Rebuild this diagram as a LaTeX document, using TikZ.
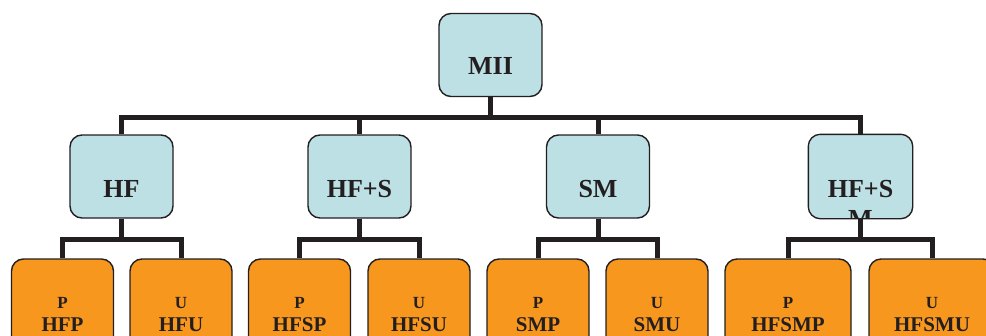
\documentclass[tikz,border=0pt]{standalone}
\usepackage{fontspec}
\setmainfont{Liberation Serif}
\definecolor{boxblue}{HTML}{BDE0E4}
\definecolor{boxorange}{HTML}{F7971D}
\definecolor{ink}{HTML}{231F20}
\begin{document}
\begin{tikzpicture}[x=1pt,y=-1pt,
 box/.style={draw=ink,line width=1.4pt,rounded corners=12pt,inner sep=0pt},
 bluebox/.style={box,fill=boxblue,minimum width=103pt,minimum height=83pt},
 orangebox/.style={box,fill=boxorange,minimum width=102pt,minimum height=96pt},
 wideorange/.style={orangebox,minimum width=126pt},
 conn/.style={draw=ink,line width=5pt,line join=miter},
 big/.style={font=\fontsize{26}{30}\selectfont\bfseries,text=ink,anchor=base,inner sep=0pt},
 mid/.style={font=\fontsize{21}{24}\selectfont\bfseries,text=ink,anchor=base,inner sep=0pt},
 small/.style={font=\fontsize{17}{20}\selectfont\bfseries,text=ink,anchor=base,inner sep=0pt}]
\useasboundingbox (0,0) rectangle (986,335);
\clip (0,0) rectangle (986,335);

% top
\node[bluebox] (mii) at (490.5,55) {};
\node[big] (miit) at (490.5,74) {MII};

% level 2
\node[bluebox] (hf) at (121.5,176.5) {};
\node[bluebox] (hfs) at (359.5,176.5) {};
\node[bluebox] (sm) at (598,176.5) {};
\node[bluebox,draw=none] (hfsm) at (860.5,176.5) {};
\node[big] (hft) at (121.5,197) {HF};
\node[big] (hfst) at (359.5,197) {HF+S};
\node[big] (smt) at (598,197) {SM};
\begin{scope}
\clip[rounded corners=12pt] (hfsm.south west) rectangle (hfsm.north east);
\node[big,align=center] (hfsmt) at (860.5,227) {HF+S\\M};
\end{scope}
\draw[draw=ink,line width=1.4pt,rounded corners=12pt] (hfsm.south west) rectangle (hfsm.north east);

% level 3
\node[orangebox] (hfp) at (62.5,307) {};
\node[orangebox] (hfu) at (181,307) {};
\node[orangebox] (hfsp) at (299.5,307) {};
\node[orangebox] (hfsu) at (419,307) {};
\node[orangebox] (smp) at (538,307) {};
\node[orangebox] (smu) at (657,307) {};
\node[wideorange] (hfsmp) at (788,307) {};
\node[wideorange] (hfsmu) at (932,307) {};

\foreach \n/\a/\b in {hfp/P/HFP,hfu/U/HFU,hfsp/P/HFSP,hfsu/U/HFSU,smp/P/SMP,smu/U/SMU,hfsmp/P/HFSMP,hfsmu/U/HFSMU}{
  \node[small] (\n a) at ([yshift=-1pt]\n.center) {\a};
  \node[mid] (\n b) at ([yshift=-24pt]\n.center) {\b};
}

% connectors level 1
\draw[conn] (hf.north) -- ++(0,-17) -| (hfsm.north);
\draw[conn] (hfs.north) -- ++(0,-17);
\draw[conn] (sm.north) -- ++(0,-17);
\draw[conn] (mii.south) -- ++(0,21);

% connectors level 2
\foreach \p/\l/\r in {hf/hfp/hfu,hfs/hfsp/hfsu,sm/smp/smu,hfsm/hfsmp/hfsmu}{
  \draw[conn] (\l.north) -- ++(0,-19) -| (\r.north);
  \draw[conn] (\p.south) -- ++(0,22);
}
\end{tikzpicture}
\end{document}
